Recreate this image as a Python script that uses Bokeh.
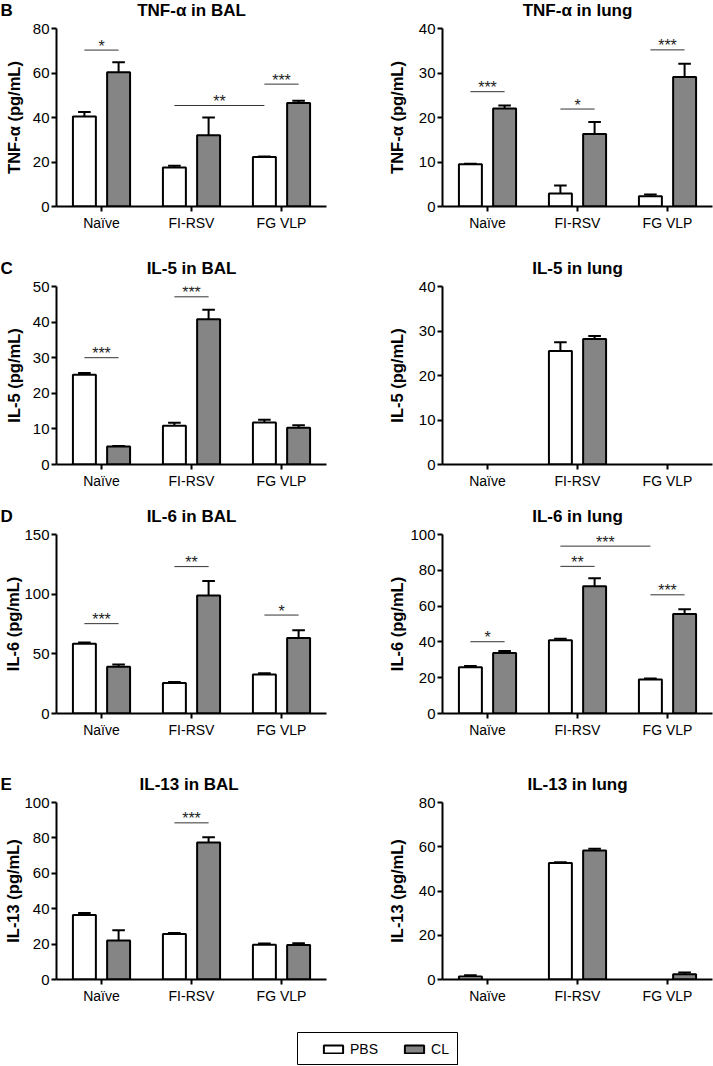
from bokeh.plotting import figure
from bokeh.models import Range1d, FixedTicker, ColumnDataSource, Legend, LegendItem, Spacer
from bokeh.layouts import column, row
from bokeh.embed import file_html
from bokeh.resources import INLINE
from bokeh.core.properties import value

FONT = "Liberation Sans"

# ---------------- data ----------------
categories = ["Naïve", "FI-RSV", "FG VLP"]
series = ["PBS", "CL"]

# TNF-alpha in BAL
tnf_bal_pbs = [40.5, 17.5, 22.2]
tnf_bal_pbs_err = [2.0, 0.8, 0.3]
tnf_bal_cl = [60.3, 32.0, 46.5]
tnf_bal_cl_err = [4.5, 8.0, 1.0]
tnf_bal_sig = [("Naïve", "PBS", "Naïve", "CL", 70.3, "*"),
               ("FI-RSV", "PBS", "FG VLP", "PBS", 45.4, "**"),
               ("FG VLP", "PBS", "FG VLP", "CL", 55.0, "***")]

# TNF-alpha in lung
tnf_lung_pbs = [9.5, 2.9, 2.3]
tnf_lung_pbs_err = [0.1, 1.8, 0.4]
tnf_lung_cl = [22.0, 16.3, 29.1]
tnf_lung_cl_err = [0.7, 2.7, 3.0]
tnf_lung_sig = [("Naïve", "PBS", "Naïve", "CL", 25.8, "***"),
                ("FI-RSV", "PBS", "FI-RSV", "CL", 21.9, "*"),
                ("FG VLP", "PBS", "FG VLP", "CL", 35.2, "***")]

# IL-5 in BAL
il5_bal_pbs = [25.2, 10.9, 11.8]
il5_bal_pbs_err = [0.5, 0.8, 0.8]
il5_bal_cl = [5.05, 40.8, 10.3]
il5_bal_cl_err = [0.15, 2.7, 0.7]
il5_bal_sig = [("Naïve", "PBS", "Naïve", "CL", 30.0, "***"),
               ("FI-RSV", "PBS", "FI-RSV", "CL", 47.1, "***")]

# IL-5 in lung
il5_lung_pbs = [0, 25.5, 0]
il5_lung_pbs_err = [0, 2.0, 0]
il5_lung_cl = [0, 28.2, 0]
il5_lung_cl_err = [0, 0.7, 0]
il5_lung_sig = []

# IL-6 in BAL
il6_bal_pbs = [58.5, 25.5, 32.7]
il6_bal_pbs_err = [1.1, 0.8, 1.1]
il6_bal_cl = [39.2, 98.8, 63.2]
il6_bal_cl_err = [1.9, 12.2, 6.5]
il6_bal_sig = [("Naïve", "PBS", "Naïve", "CL", 75.3, "***"),
               ("FI-RSV", "PBS", "FI-RSV", "CL", 123.1, "**"),
               ("FG VLP", "PBS", "FG VLP", "CL", 82.5, "*")]

# IL-6 in lung
il6_lung_pbs = [25.9, 40.9, 19.0]
il6_lung_pbs_err = [0.6, 0.9, 0.5]
il6_lung_cl = [33.8, 71.1, 55.6]
il6_lung_cl_err = [1.1, 4.4, 2.6]
il6_lung_sig = [("Naïve", "PBS", "Naïve", "CL", 40.1, "*"),
                ("FI-RSV", "PBS", "FI-RSV", "CL", 82.2, "**"),
                ("FI-RSV", "PBS", "FG VLP", "PBS", 93.5, "***"),
                ("FG VLP", "PBS", "FG VLP", "CL", 66.3, "***")]

# IL-13 in BAL
il13_bal_pbs = [36.4, 25.7, 19.7]
il13_bal_pbs_err = [1.2, 0.6, 0.6]
il13_bal_cl = [22.0, 77.4, 19.5]
il13_bal_cl_err = [5.8, 3.0, 1.0]
il13_bal_sig = [("FI-RSV", "PBS", "FI-RSV", "CL", 88.5, "***")]

# IL-13 in lung
il13_lung_pbs = [1.35, 52.6, 0]
il13_lung_pbs_err = [0.55, 0.4, 0]
il13_lung_cl = [0, 58.3, 2.4]
il13_lung_cl_err = [0, 0.8, 0.8]
il13_lung_sig = []

# ---------------- style / layout ----------------
FILL = {"PBS": "white", "CL": "#858585"}
OFFSET = {"PBS": -0.19, "CL": 0.19}
BAR_W = 0.255
CAP_W = 0.14
FW = 270
LEFT_W, RIGHT_W = 355, 358
LEFT_BL, RIGHT_BL = 56, 87
TOP = 9
MID = 0.3465  # distance (in em) from the text middle to its alphabetic baseline


def xpos(cat, grp):
    return categories.index(cat) + 0.5 + OFFSET[grp]


def make_panel(ylabel, ymax, ystep, pbs, pbs_err, cl, cl_err, sig, left, fh, bottom):
    bl = LEFT_BL if left else RIGHT_BL
    wtot = LEFT_W if left else RIGHT_W
    br = wtot - bl - FW
    p = figure(width=wtot, height=TOP + fh + bottom,
               x_range=Range1d(0, 3), y_range=Range1d(0, ymax),
               output_backend="svg", toolbar_location=None,
               min_border_left=bl, min_border_right=br,
               min_border_top=TOP, min_border_bottom=bottom)
    p.outline_line_color = None
    p.grid.visible = False
    p.background_fill_color = "white"
    p.border_fill_color = "white"

    for ax in (p.xaxis[0], p.yaxis[0]):
        ax.axis_line_width = 2
        ax.axis_line_color = "black"
        ax.major_tick_line_width = 2
        ax.major_tick_line_color = "black"
        ax.major_tick_out = 5
        ax.major_tick_in = 0
        ax.minor_tick_line_color = None
        ax.major_label_text_font = FONT
        ax.major_label_text_color = "black"
    p.xaxis.ticker = FixedTicker(ticks=[i + 0.5 for i in range(len(categories))])
    p.xaxis.major_label_overrides = {i + 0.5: c for i, c in enumerate(categories)}
    p.xaxis.major_label_text_font_size = "14px"
    p.xaxis.major_label_standoff = 3
    yt = list(range(0, ymax + 1, ystep))
    p.yaxis.ticker = FixedTicker(ticks=yt)
    p.yaxis.major_label_text_font_size = "15px"
    p.yaxis.major_label_standoff = 2
    w = len(str(yt[-1])) * 0.556 * 15
    p.yaxis.axis_label = ylabel
    p.yaxis.axis_label_text_font = FONT
    p.yaxis.axis_label_text_font_size = "16.5px"
    p.yaxis.axis_label_text_font_style = "bold"
    p.yaxis.axis_label_text_color = "black"
    p.yaxis.axis_label_standoff = int(round((23.7 if left else 26.3) - w))

    for grp, vals, errs in (("PBS", pbs, pbs_err), ("CL", cl, cl_err)):
        xs, tops, hi, c0, c1 = [], [], [], [], []
        for cat, v, e in zip(categories, vals, errs):
            if v <= 0:
                continue
            x = xpos(cat, grp)
            xs.append(x)
            tops.append(v)
            hi.append(v + e)
            c0.append(x - CAP_W / 2)
            c1.append(x + CAP_W / 2)
        src = ColumnDataSource(dict(x=xs, top=tops, hi=hi, c0=c0, c1=c1))
        p.segment(x0="x", y0="top", x1="x", y1="hi", source=src,
                  line_color="black", line_width=2)
        p.segment(x0="c0", y0="hi", x1="c1", y1="hi", source=src,
                  line_color="black", line_width=2)
        p.vbar(x="x", top="top", bottom=0, width=BAR_W, source=src,
               fill_color=FILL[grp], line_color="black", line_width=2)

    if sig:
        sx0 = [xpos(s[0], s[1]) for s in sig]
        sx1 = [xpos(s[2], s[3]) for s in sig]
        ssrc = ColumnDataSource(dict(x0=sx0, x1=sx1, y=[s[4] for s in sig],
                                     xm=[(a + b) / 2 for a, b in zip(sx0, sx1)],
                                     t=[s[5] for s in sig]))
        p.segment(x0="x0", y0="y", x1="x1", y1="y", source=ssrc,
                  line_color="#333333", line_width=1)
        p.text(x="xm", y="y", text="t", source=ssrc, text_align="center",
               text_baseline="middle", text_font=value(FONT),
               text_font_size="16px", text_color="#222222", y_offset=-4)
    return p


def make_header(letter, title_left, title_right, h, base):
    """Strip above a row of panels holding the panel letter and the two titles.
    `base` is the distance of the text baseline from the strip's top, in px."""
    total = LEFT_W + RIGHT_W
    hd = figure(width=total, height=h, x_range=Range1d(0, total), y_range=Range1d(0, h),
                output_backend="svg", toolbar_location=None,
                x_axis_location=None, y_axis_location=None,
                min_border=0, min_border_left=0, min_border_right=0,
                min_border_top=0, min_border_bottom=0)
    hd.grid.visible = False
    hd.outline_line_color = None
    hd.background_fill_color = "white"
    hd.border_fill_color = "white"
    y = h - (base - MID * 17)
    hd.text(x=[0], y=[y], text=[letter], text_align="left", text_baseline="middle",
            text_font=value(FONT), text_font_size="17px", text_font_style="bold",
            text_color="black")
    hd.text(x=[LEFT_BL + FW / 2, LEFT_W + RIGHT_BL + FW / 2], y=[y, y],
            text=[title_left, title_right], text_align="center", text_baseline="middle",
            text_font=value(FONT), text_font_size="17px", text_font_style="bold",
            text_color="black")
    return hd


hB = make_header("B", "TNF-α in BAL", "TNF-α in lung", 19, 15.5)
bB_l = make_panel("TNF-α (pg/mL)", 80, 20, tnf_bal_pbs, tnf_bal_pbs_err,
                  tnf_bal_cl, tnf_bal_cl_err, tnf_bal_sig, True, 178, 47)
bB_r = make_panel("TNF-α (pg/mL)", 40, 10, tnf_lung_pbs, tnf_lung_pbs_err,
                  tnf_lung_cl, tnf_lung_cl_err, tnf_lung_sig, False, 178, 47)

hC = make_header("C", "IL-5 in BAL", "IL-5 in lung", 24, 20.5)
bC_l = make_panel("IL-5 (pg/mL)", 50, 10, il5_bal_pbs, il5_bal_pbs_err,
                  il5_bal_cl, il5_bal_cl_err, il5_bal_sig, True, 178, 37)
bC_r = make_panel("IL-5 (pg/mL)", 40, 10, il5_lung_pbs, il5_lung_pbs_err,
                  il5_lung_cl, il5_lung_cl_err, il5_lung_sig, False, 178, 37)

hD = make_header("D", "IL-6 in BAL", "IL-6 in lung", 24, 20.5)
bD_l = make_panel("IL-6 (pg/mL)", 150, 50, il6_bal_pbs, il6_bal_pbs_err,
                  il6_bal_cl, il6_bal_cl_err, il6_bal_sig, True, 179, 56)
bD_r = make_panel("IL-6 (pg/mL)", 100, 20, il6_lung_pbs, il6_lung_pbs_err,
                  il6_lung_cl, il6_lung_cl_err, il6_lung_sig, False, 179, 56)

hE = make_header("E", "IL-13  in BAL", "IL-13 in lung", 24, 20.5)
bE_l = make_panel("IL-13 (pg/mL)", 100, 20, il13_bal_pbs, il13_bal_pbs_err,
                  il13_bal_cl, il13_bal_cl_err, il13_bal_sig, True, 177, 43)
bE_r = make_panel("IL-13 (pg/mL)", 80, 20, il13_lung_pbs, il13_lung_pbs_err,
                  il13_lung_cl, il13_lung_cl_err, il13_lung_sig, False, 177, 43)

# legend box
lg = figure(width=161, height=33, x_range=Range1d(0, 1), y_range=Range1d(0, 1),
            output_backend="svg", toolbar_location=None,
            x_axis_location=None, y_axis_location=None,
            min_border=0, min_border_left=0, min_border_right=0,
            min_border_top=0, min_border_bottom=0)
lg.grid.visible = False
lg.outline_line_color = "black"
lg.outline_line_width = 1
items = []
for s in series:
    r = lg.vbar(x=[5], top=[0.5], width=0.1, fill_color=FILL[s], line_color="black", line_width=2)
    items.append(LegendItem(label=s, renderers=[r]))
leg = Legend(items=items, orientation="horizontal", location=(24, 8),
             padding=0, margin=0, spacing=24, label_standoff=5,
             glyph_width=24, glyph_height=10, label_width=28, label_height=16,
             label_text_font=FONT, label_text_font_size="14px", label_text_color="black",
             border_line_color=None, background_fill_alpha=0)
lg.add_layout(leg, "center")

page = column(
    hB, row(bB_l, bB_r),
    hC, row(bC_l, bC_r),
    hD, row(bD_l, bD_r),
    hE, row(bE_l, bE_r),
    Spacer(height=10),
    row(Spacer(width=297), lg),
)

open("out.html", "w").write(file_html(page, INLINE))
